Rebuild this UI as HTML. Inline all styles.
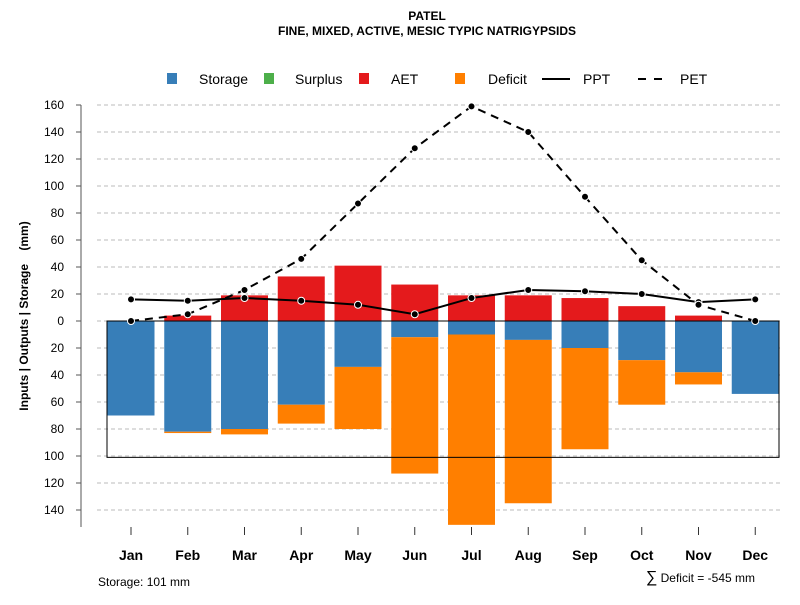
<!DOCTYPE html>
<html><head><meta charset="utf-8"><style>
body{margin:0;background:#fff}
svg{font-family:"Liberation Sans",sans-serif}
</style></head><body>
<svg id="chart" width="800" height="600">
<text x="427" y="20" text-anchor="middle" font-size="12" font-weight="bold">PATEL</text>
<text x="427" y="35" text-anchor="middle" font-size="12" font-weight="bold">FINE, MIXED, ACTIVE, MESIC TYPIC NATRIGYPSIDS</text>
<g font-size="14">
<g><rect x="167" y="73" width="10" height="11" fill="#377eb8"/><text x="199" y="84">Storage</text></g>
<g><rect x="264" y="73" width="10" height="11" fill="#4daf4a"/><text x="295" y="84">Surplus</text></g>
<g><rect x="359" y="73" width="10" height="11" fill="#e41a1c"/><text x="391" y="84">AET</text></g>
<g><rect x="455" y="73" width="10" height="11" fill="#ff7f00"/><text x="488" y="84">Deficit</text></g>
<g><line x1="542" y1="79" x2="570" y2="79" stroke="#000" stroke-width="2"/><text x="583" y="84">PPT</text></g>
<g><line x1="638" y1="79" x2="662" y2="79" stroke="#000" stroke-width="2" stroke-dasharray="8,8"/><text x="680" y="84">PET</text></g>
</g>
<g id="grid"></g><g id="bars"></g><g id="lines"></g><g id="axes"></g>
<text transform="translate(28,316) rotate(-90)" text-anchor="middle" font-size="12" font-weight="bold">Inputs | Outputs | Storage &#160;&#160;&#160;(mm)</text>
<text x="98" y="586" font-size="12">Storage: 101 mm</text>
<text x="755" y="582" text-anchor="end" font-size="12"><tspan font-size="16">∑</tspan> Deficit = -545 mm</text>
</svg>
<script>
const months=["Jan","Feb","Mar","Apr","May","Jun","Jul","Aug","Sep","Oct","Nov","Dec"];
const storage=[70,82,80,62,34,12,10,14,20,29,38,54];
const deficit=[0,1,4,14,46,101,141,121,75,33,9,0];
const aet=[0,4,19,33,41,27,19,19,17,11,4,0];
const ppt=[16,15,17,15,12,5,17,23,22,20,14,16];
const pet=[0,5,23,46,87,128,159,140,92,45,12,0];
const yTicks=[160,140,120,100,80,60,40,20,0,20,40,60,80,100,120,140];
const yTickVals=[160,140,120,100,80,60,40,20,0,-20,-40,-60,-80,-100,-120,-140];
const capacity=101;
const NS="http://www.w3.org/2000/svg";
const y=v=>321-v*1.35;
const x=i=>131+i*56.75;
const bw=47;
function mk(p,t,a){const e=document.createElementNS(NS,t);for(const k in a)e.setAttribute(k,a[k]);document.getElementById(p).appendChild(e);return e;}
yTickVals.forEach((v,i)=>{
  let g=mk('grid','line',{x1:97,x2:780,y1:y(v),y2:y(v),stroke:'#bbb','stroke-dasharray':'4,3'});
  
  
  let t=mk('axes','line',{x1:76,x2:81,y1:y(v),y2:y(v),stroke:'#555'});
  
  
  let l=mk('axes','text',{x:64,y:y(v)+4,'text-anchor':'end','font-size':12});
  l.textContent=yTicks[i];
  
  
});
let ax=mk('axes','line',{x1:81,x2:81,y1:y(160),y2:527,stroke:'#555'});


months.forEach((m,i)=>{
  let s=mk('bars','rect',{x:x(i)-bw/2,y:y(0),width:bw,height:storage[i]*1.35,fill:'#377eb8'});
  
  
  let d=mk('bars','rect',{x:x(i)-bw/2,y:y(-storage[i]),width:bw,height:deficit[i]*1.35,fill:'#ff7f00'});
  
  
  let a=mk('bars','rect',{x:x(i)-bw/2,y:y(aet[i]),width:bw,height:aet[i]*1.35,fill:'#e41a1c'});
  
  
  let t=mk('axes','line',{x1:x(i),x2:x(i),y1:527,y2:535,stroke:'#333'});
  
  
  let l=mk('axes','text',{x:x(i),y:560,'text-anchor':'middle','font-size':14,'font-weight':'bold'});
  l.textContent=m;
  
  
});
let box=mk('bars','rect',{x:107,y:y(0),width:672,height:capacity*1.35,fill:'none',stroke:'#000','stroke-width':1});


let pl=mk('lines','polyline',{points:ppt.map((v,i)=>x(i)+','+y(v)).join(' '),fill:'none',stroke:'#000','stroke-width':2});


let el=mk('lines','polyline',{points:pet.map((v,i)=>x(i)+','+y(v)).join(' '),fill:'none',stroke:'#000','stroke-width':2,'stroke-dasharray':'8,6'});


[ppt,pet].forEach((arr,k)=>arr.forEach((v,i)=>{
  let c=mk('lines','circle',{cx:x(i),cy:y(v),r:3.5,fill:'#000',stroke:'#fff','stroke-width':1});
  
  
}));
</script>
</body></html>
